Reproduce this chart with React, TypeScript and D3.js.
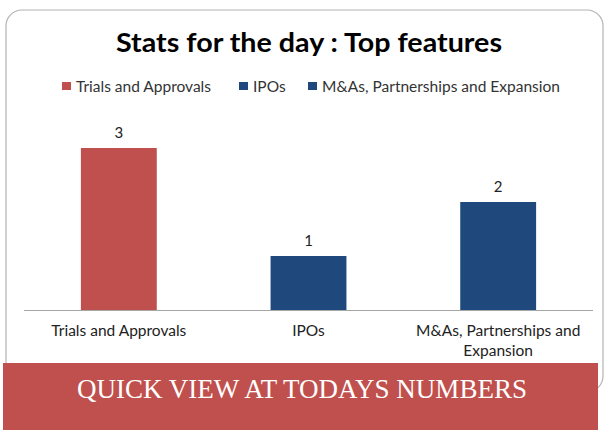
import React from "react";
import * as d3 from "d3";

const categories = ["Trials and Approvals", "IPOs", "M&As, Partnerships and Expansion"];
const categoryLines = [["Trials and Approvals"], ["IPOs"], ["M&As, Partnerships and", "Expansion"]];
const values = [3, 1, 2];
const seriesColors = ["#C0504D", "#1F497D", "#1F497D"];
const title = "Stats for the day : Top features";
const bannerText = "QUICK VIEW AT TODAYS NUMBERS";

const W = 605;
const H = 430;
const FONT = "Lato, 'Open Sans', sans-serif";

export default function App() {
  const x = d3
    .scaleBand<string>()
    .domain(categories)
    .range([24, 593])
    .paddingInner(0.6)
    .paddingOuter(0.3);
  const y = d3.scaleLinear().domain([0, 3]).range([310, 148]);

  const legendX = [62, 239, 308];
  const legendTextX = [76, 253, 322];

  return (
    <svg
      width={W}
      height={H}
      style={{ position: "absolute", left: 0, top: 0, background: "#fff" }}
    >
      <rect x={0} y={0} width={W} height={H} fill="#fff" />
      <rect
        x={6}
        y={10}
        width={597}
        height={382}
        rx={16}
        ry={16}
        fill="#fff"
        stroke="#b3b3b3"
        strokeWidth={1.2}
      />
      <text
        x={309}
        y={52}
        textAnchor="middle"
        fontFamily={FONT}
        fontWeight="bold"
        fontSize={26}
        fill="#000"
        textLength={386}
        lengthAdjust="spacingAndGlyphs"
      >
        {title}
      </text>
      {categories.map((c, i) => (
        <g key={"lg" + i}>
          <rect x={legendX[i]} y={82} width={9} height={8} fill={seriesColors[i]} />
          <text
            x={legendTextX[i]}
            y={92}
            fontFamily={FONT}
            fontSize={15.5}
            fill="#333"
          >
            {c}
          </text>
        </g>
      ))}
      {categories.map((c, i) => (
        <g key={"b" + i}>
          <rect
            x={x(c)}
            y={y(values[i])}
            width={x.bandwidth()}
            height={y(0) - y(values[i])}
            fill={seriesColors[i]}
          />
          <text
            x={(x(c) ?? 0) + x.bandwidth() / 2}
            y={y(values[i]) - 10}
            textAnchor="middle"
            fontFamily={FONT}
            fontSize={15}
            fill="#222"
          >
            {values[i]}
          </text>
        </g>
      ))}
      <line x1={24} x2={593} y1={310.5} y2={310.5} stroke="#a6a6a6" strokeWidth={1.2} />
      {categories.map((c, i) => (
        <text
          key={"cl" + i}
          x={(x(c) ?? 0) + x.bandwidth() / 2}
          y={336}
          textAnchor="middle"
          fontFamily={FONT}
          fontSize={15.5}
          fill="#222"
        >
          {categoryLines[i].map((ln, j) => (
            <tspan key={j} x={(x(c) ?? 0) + x.bandwidth() / 2} dy={j === 0 ? 0 : 20}>
              {ln}
            </tspan>
          ))}
        </text>
      ))}
      <rect x={3} y={363} width={595} height={67} fill="#C0504D" />
      <text
        x={302}
        y={398}
        textAnchor="middle"
        fontFamily="'Liberation Serif', 'DejaVu Serif', serif"
        fontSize={28}
        fill="#fff"
        textLength={450}
        lengthAdjust="spacingAndGlyphs"
      >
        {bannerText}
      </text>
    </svg>
  );
}
